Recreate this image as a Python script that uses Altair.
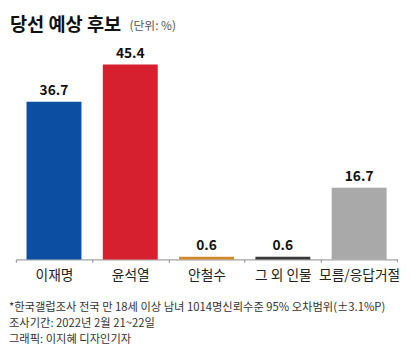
import altair as alt
import pandas as pd

categories = ["이재명", "윤석열", "안철수", "그 외 인물", "모름/응답거절"]
values = [36.7, 45.4, 0.6, 0.6, 16.7]
colors = ["#0b4ea2", "#d7202f", "#d18b2c", "#3a3a3a", "#a9a9a9"]
labels = ["36.7", "45.4", "0.6", "0.6", "16.7"]

title_text = "당선 예상 후보"
unit_text = "(단위: %)"
notes = [
    "*한국갤럽조사 전국 만 18세 이상 남녀 1014명신뢰수준 95% 오차범위(±3.1%P)",
    "조사기간: 2022년 2월 21~22일",
    "그래픽: 이지혜 디자인기자",
]

FONT = "Noto Sans CJK KR"
W, H = 389, 219
STEP = W / 5.0

df = pd.DataFrame({"cat": categories, "val": values, "color": colors, "label": labels})

xenc = alt.X(
    "cat:N",
    sort=categories,
    scale=alt.Scale(paddingInner=0.28, paddingOuter=0.14),
    axis=alt.Axis(
        title=None,
        labelAngle=0,
        labelFont=FONT,
        labelFontSize=14,
        labelColor="#222222",
        labelPadding=6,
        domainColor="#8a8a8a",
        tickColor="#8a8a8a",
        tickSize=3,
        tickOffset=-STEP / 2,
        labelOffset=STEP / 2,
    ),
)
yenc = alt.Y("val:Q", scale=alt.Scale(domain=[0, 50]), axis=None)

bars = alt.Chart(df).mark_bar().encode(
    x=xenc, y=yenc, color=alt.Color("color:N", scale=None)
)
vals = alt.Chart(df).mark_text(
    font=FONT, fontSize=14, fontWeight="bold", color="#111111", baseline="bottom", dy=-4
).encode(x=alt.X("cat:N", sort=categories), y="val:Q", text="label:N")

end_tick = alt.Chart(pd.DataFrame({"a": [0]})).mark_rule(color="#8a8a8a").encode(
    x=alt.value(W), y=alt.value(H), y2=alt.value(H + 3)
)

title = alt.Chart(pd.DataFrame({"t": [title_text]})).mark_text(
    font=FONT, fontSize=19, fontWeight="bold", color="#111111", align="left", baseline="alphabetic"
).encode(text="t:N", x=alt.value(-6), y=alt.value(-14))
unit = alt.Chart(pd.DataFrame({"t": [unit_text]})).mark_text(
    font=FONT, fontSize=12, color="#555555", align="left", baseline="alphabetic"
).encode(text="t:N", x=alt.value(116), y=alt.value(-15))

note_layers = []
for i, n in enumerate(notes):
    note_layers.append(
        alt.Chart(pd.DataFrame({"t": [n]})).mark_text(
            font=FONT, fontSize=11.5, color="#333333", align="left", baseline="alphabetic"
        ).encode(text="t:N", x=alt.value(-7), y=alt.value(272 + 16 * i))
    )

chart = alt.layer(bars, vals, end_tick, title, unit, *note_layers).properties(
    width=W,
    height=H,
    autosize=alt.AutoSizeParams(type="none"),
    padding={"left": 8, "top": 34, "right": 15, "bottom": 90},
    background="white",
).configure_view(stroke=None)

chart.save("out.html", embed_options={"renderer": "svg", "actions": False})
